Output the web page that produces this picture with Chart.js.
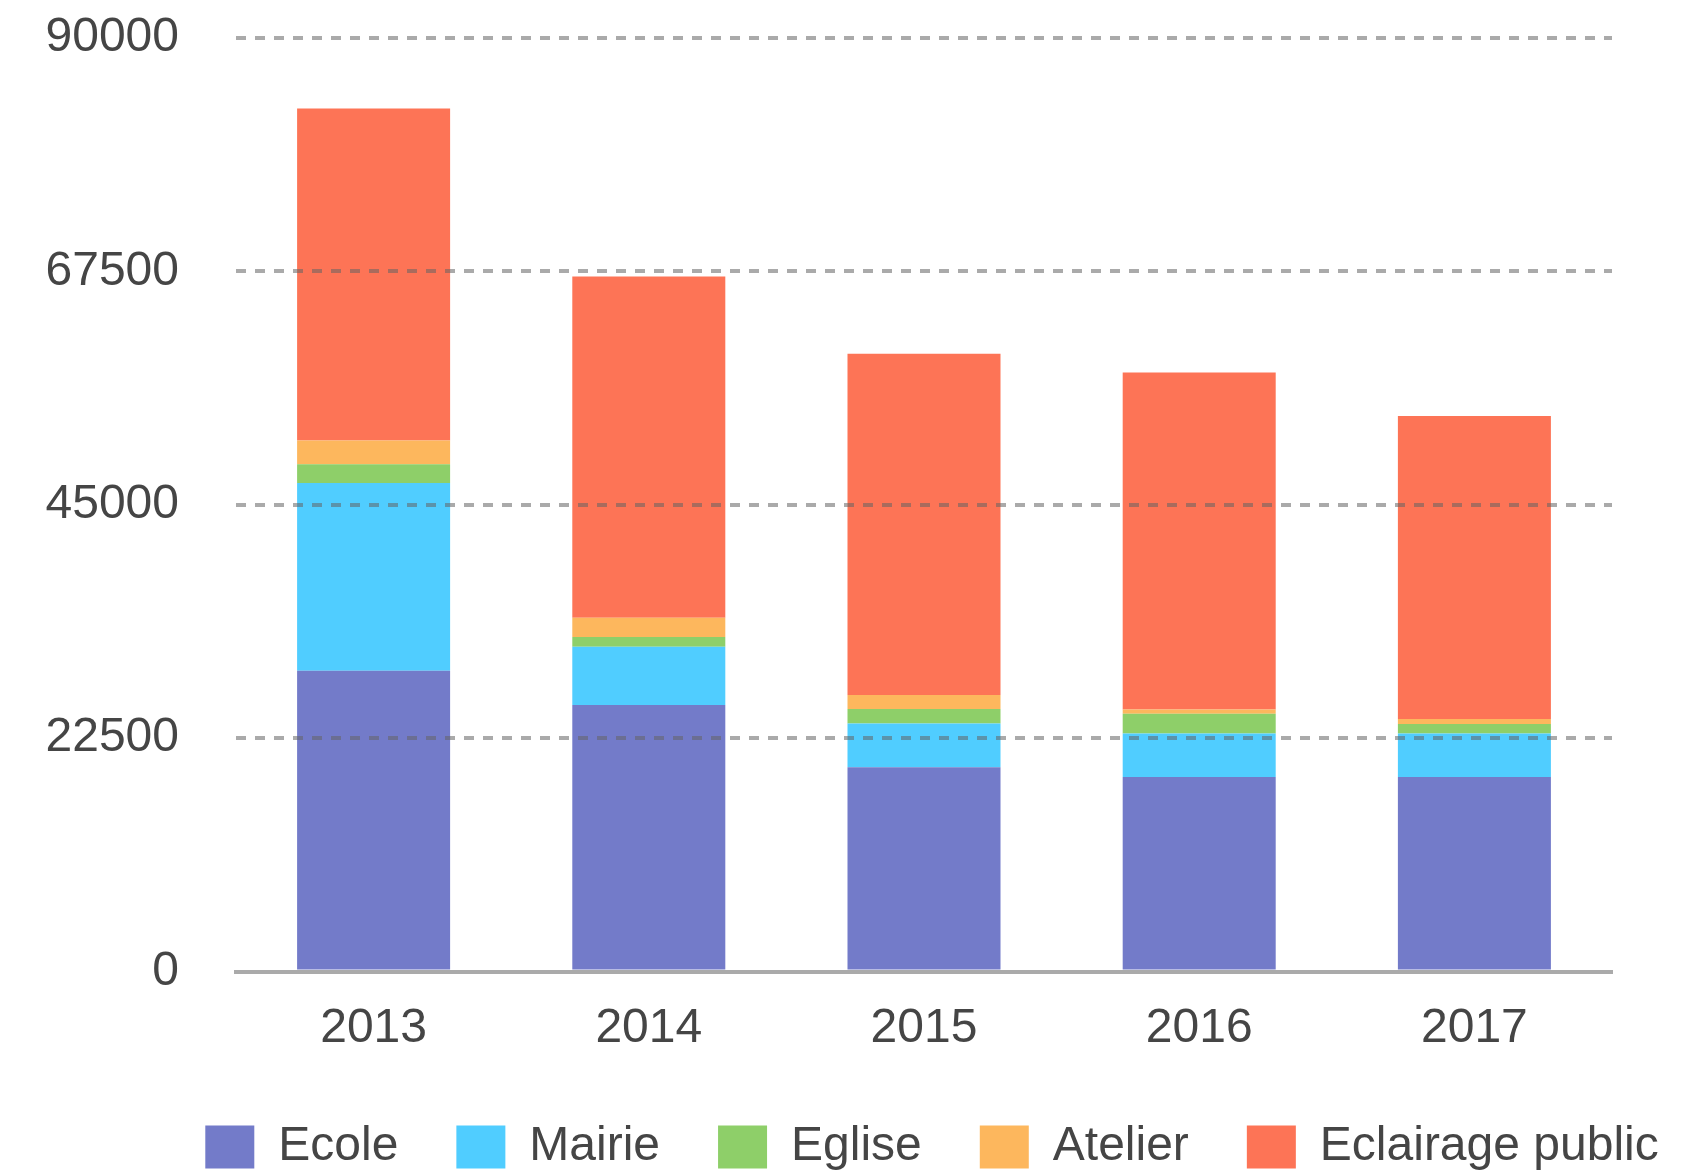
<!DOCTYPE html>
<html>
<head>
<meta charset="utf-8">
<script src="https://cdn.jsdelivr.net/npm/chart.js@4.4.1/dist/chart.umd.min.js"></script>
<style>
  html, body { margin: 0; padding: 0; background: #fff; }
</style>
</head>
<body>
<canvas id="myChart" width="1701" height="1171"></canvas>
<script>
const years = ["2013", "2014", "2015", "2016", "2017"];
const ecole = [29000, 25700, 19700, 18750, 18750];
const mairie = [18100, 5600, 4200, 4200, 4200];
const eglise = [1800, 950, 1400, 1900, 900];
const atelier = [2300, 1850, 1350, 400, 500];
const eclairage = [32000, 32900, 32900, 32500, 29200];
const yTicks = [0, 22500, 45000, 67500, 90000];

const textColor = "#454545";
const font = { family: "'Liberation Sans', Arial, sans-serif", size: 48 };

// legend sits right of the canvas centre in the original
const shiftLegend = {
  id: "shiftLegend",
  afterLayout(chart) {
    chart.legend.left += 126;
    chart.legend.right += 126;
  },
};

const ctx = document.getElementById("myChart").getContext("2d");
const myChart = new Chart(ctx, {
  type: "bar",
  data: {
    labels: years,
    datasets: [
      { label: "Ecole", data: ecole, backgroundColor: "#737bc9" },
      { label: "Mairie", data: mairie, backgroundColor: "#50cdff" },
      { label: "Eglise", data: eglise, backgroundColor: "#8ecf69" },
      { label: "Atelier", data: atelier, backgroundColor: "#fdb75d" },
      { label: "Eclairage public", data: eclairage, backgroundColor: "#fd7456" },
    ],
  },
  options: {
    responsive: false,
    animation: false,
    events: [],
    layout: { padding: { top: 38, right: 89, bottom: -10, left: 0 } },
    datasets: {
      bar: { barPercentage: 1, categoryPercentage: 0.556, borderWidth: 0 },
    },
    scales: {
      x: {
        stacked: true,
        afterFit: (scale) => {
          scale.height = 93.5;
        },
        grid: { color: "transparent", drawTicks: false },
        border: { display: true, color: "#aaaaaa", width: 4, z: 1 },
        ticks: { color: textColor, font: font, padding: 28 },
      },
      y: {
        stacked: true,
        min: 0,
        max: 90000,
        afterBuildTicks: (scale) => {
          scale.ticks = yTicks.map((v) => ({ value: v }));
        },
        afterFit: (scale) => {
          scale.width = 236;
        },
        grid: {
          z: 1,
          lineWidth: 4,
          drawTicks: true,
          tickLength: 57,
          tickColor: "transparent",
          color: (c) => (c.tick && c.tick.value === 0 ? "transparent" : "rgba(100,100,100,0.55)"),
        },
        border: { display: false, dash: [10, 9] },
        ticks: {
          color: textColor,
          font: font,
          padding: 0,
          callback: (v) => String(v),
        },
      },
    },
    plugins: {
      tooltip: { enabled: false },
      legend: {
        position: "bottom",
        labels: {
          color: textColor,
          font: font,
          boxWidth: 49,
          boxHeight: 43,
          padding: 58,
        },
      },
    },
  },
  plugins: [shiftLegend],
});
</script>
</body>
</html>
